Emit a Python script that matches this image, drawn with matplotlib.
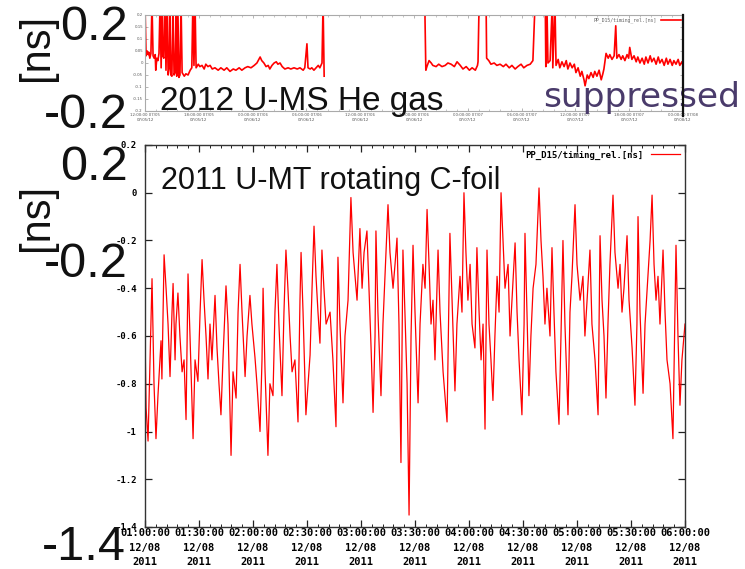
import numpy as np
import matplotlib
matplotlib.use("Agg")
import matplotlib.pyplot as plt
from matplotlib.ticker import MultipleLocator, FixedLocator, FixedFormatter
from matplotlib.lines import Line2D

# ---- 2011 U-MT rotating C-foil : minutes after 01:00:00, timing [ns]
t_2011 = [0.0, 0.6, 1.7, 2.8, 3.9, 5.0, 6.1, 7.2, 8.9, 9.4, 10.6, 11.7, 12.8, 13.9, 15.0, 15.6,
          16.7, 17.2, 18.3, 19.4, 20.6, 21.7, 22.8, 23.9, 25.0, 26.7, 27.8, 29.4, 30.6, 31.7, 32.8,
          33.9, 35.0, 36.1, 37.2, 38.9, 40.0, 41.1, 42.2, 43.3, 45.0, 46.1, 47.8, 48.9, 50.6, 51.7,
          52.8, 53.9, 55.6, 56.7, 58.3, 59.4, 61.1, 62.2, 63.9, 65.0, 65.6, 66.7, 68.3, 69.4, 71.1,
          72.2, 73.3, 74.4, 76.1, 77.2, 78.3, 79.4, 80.6, 81.7, 83.3, 85.0, 86.1, 86.7, 87.8, 89.4,
          90.6, 91.7, 92.8, 93.9, 95.0, 96.1, 97.2, 98.3, 99.4, 100.6, 102.8, 104.4, 106.1, 107.2,
          108.3, 110.0, 111.1, 112.8, 114.4, 115.6, 116.7, 117.8, 119.4, 120.6, 121.7, 123.3, 124.4,
          125.6, 126.7, 127.8, 128.3, 129.4, 131.1, 132.2, 133.3, 135.0, 136.1, 137.8, 138.9, 140.0,
          141.1, 142.2, 143.3, 144.4, 145.6, 146.7, 147.8, 148.9, 150.0, 151.7, 152.8, 154.4, 155.6,
          156.7, 157.8, 158.9, 160.0, 161.1, 162.8, 163.9, 165.6, 167.8, 169.4, 170.6, 172.2, 173.3,
          175.0, 176.1, 177.2, 178.3, 179.4, 180.6, 181.7, 183.3, 184.4, 185.6, 186.7, 187.8, 188.9,
          190.0, 191.1, 192.2, 193.3, 194.4, 195.6, 196.7, 197.8, 198.9, 200.0, 201.7, 202.8, 203.9,
          205.6, 206.7, 207.8, 209.4, 210.6, 211.1, 212.2, 213.3, 214.4, 215.6, 217.2, 218.9, 220.0,
          221.1, 222.2, 223.3, 225.0, 226.1, 227.2, 228.3, 230.0, 231.1, 232.2, 233.3, 235.0, 236.1,
          237.2, 238.9, 240.0, 241.7, 243.3, 244.4, 245.6, 247.2, 248.3, 250.0, 251.7, 252.8, 253.9,
          255.0, 256.1, 257.2, 258.3, 260.0, 261.1, 262.8, 263.9, 265.0, 266.1, 267.8, 268.9, 270.6,
          272.2, 273.3, 273.9, 275.0, 276.7, 277.8, 279.4, 280.6, 281.7, 282.8, 283.9, 285.0, 286.1,
          287.8, 288.9, 290.0, 291.7, 293.3, 294.4, 295.0, 296.1, 297.2, 298.3, 300.0]
v_2011 = [-0.58, -0.90, -1.04, -0.70, -0.36, -0.80, -1.03, -0.85, -0.62, -0.78, -0.26, -0.40, -0.55,
          -0.77, -0.50, -0.38, -0.70, -0.55, -0.42, -0.60, -0.75, -0.70, -0.95, -0.34, -0.60, -1.03,
          -0.70, -0.79, -0.50, -0.28, -0.45, -0.60, -0.78, -0.55, -0.70, -0.43, -0.65, -0.80, -0.93,
          -0.70, -0.39, -0.55, -1.10, -0.75, -0.86, -0.50, -0.30, -0.50, -0.77, -0.60, -0.43, -0.55,
          -0.69, -0.80, -1.00, -0.70, -0.40, -0.75, -1.10, -0.80, -0.85, -0.50, -0.30, -0.55, -0.85,
          -0.50, -0.24, -0.40, -0.60, -0.75, -0.70, -0.96, -0.45, -0.25, -0.50, -0.93, -0.80, -0.68,
          -0.40, -0.14, -0.35, -0.50, -0.63, -0.24, -0.40, -0.55, -0.50, -0.70, -0.98, -0.27, -0.55,
          -0.88, -0.60, -0.45, -0.02, -0.25, -0.35, -0.45, -0.15, -0.40, -0.25, -0.16, -0.40, -0.65,
          -0.92, -0.60, -0.16, -0.50, -0.85, -0.55, -0.35, -0.05, -0.25, -0.40, -0.30, -0.19, -0.55,
          -1.13, -0.24, -0.50, -0.80, -1.35, -0.60, -0.22, -0.50, -0.88, -0.55, -0.30, -0.40, -0.07,
          -0.30, -0.55, -0.45, -0.70, -0.24, -0.50, -0.75, -0.96, -0.17, -0.45, -0.83, -0.55, -0.35,
          -0.50, 0.00, -0.25, -0.45, -0.30, -0.55, -0.65, -0.23, -0.50, -0.70, -0.55, -0.99, -0.24,
          -0.55, -0.70, -0.87, -0.60, -0.35, -0.50, 0.00, -0.20, -0.40, -0.30, -0.60, -0.45, -0.21,
          -0.50, -0.70, -0.93, -0.55, -0.17, -0.50, -0.85, -0.60, -0.40, -0.30, 0.02, -0.20, -0.35,
          -0.55, -0.40, -0.60, -0.23, -0.50, -0.75, -0.97, -0.60, -0.20, -0.55, -0.93, -0.50, -0.35,
          -0.05, -0.30, -0.45, -0.35, -0.60, -0.45, -0.24, -0.55, -0.70, -0.93, -0.18, -0.45, -0.60,
          -0.86, -0.55, -0.30, -0.01, -0.25, -0.40, -0.30, -0.50, -0.40, -0.18, -0.45, -0.65, -0.89,
          -0.55, -0.10, -0.50, -0.84, -0.55, -0.35, -0.20, -0.01, -0.30, -0.45, -0.35, -0.55, -0.24,
          -0.50, -0.70, -0.80, -1.03, -0.50, -0.22, -0.60, -0.89, -0.70, -0.55]

# ---- 2012 U-MS He gas : relative time, timing [ns] (nan = no data, 0.25 = off scale)
t_2012 = [0.0, 0.2, 0.4, 0.6, 0.7, 0.9, 1.1, 1.3, 1.5, 1.7, 1.9, 2.0, 2.2, 2.4, 2.6, 2.8, 3.0, 3.2,
          3.3, 3.5, 3.7, 3.9, 4.1, 4.3, 4.5, 4.6, 4.8, 5.0, 5.2, 5.4, 5.6, 5.8, 5.9, 6.1, 6.3, 6.5,
          6.7, 6.9, 7.3, 7.6, 8.0, 8.4, 8.7, 8.9, 9.1, 9.3, 9.5, 9.9, 10.2, 10.6, 11.0, 11.3, 11.7,
          12.1, 12.5, 13.0, 13.6, 14.1, 14.7, 15.2, 15.8, 16.4, 16.9, 17.5, 18.0, 18.6, 19.1, 19.7,
          20.3, 20.8, 21.4, 21.7, 22.1, 22.5, 22.9, 23.2, 23.6, 24.0, 24.4, 24.7, 25.1, 25.5, 26.0,
          26.6, 27.1, 27.7, 28.3, 28.8, 29.4, 29.7, 30.1, 30.3, 30.7, 31.0, 31.4, 31.8, 32.2, 32.5,
          32.9, 33.1, 33.3, 34.0,
          52.0, 52.2, 52.4, 52.8, 53.2, 53.5, 54.1, 54.6, 55.2, 55.8, 56.3, 56.9, 57.5, 58.0, 58.6,
          59.1, 59.7, 60.3, 60.8, 61.4, 61.8, 61.9, 62.1, 62.8,
          63.4, 63.5, 63.9, 64.3, 64.9, 65.4, 66.0, 66.6, 67.1, 67.7, 68.2, 68.8, 69.3, 69.9, 70.4,
          71.0, 71.6, 72.1, 72.5, 73.5,
          74.4, 74.5, 74.7, 74.9, 75.3, 75.7, 75.8, 76.2, 76.4, 76.8, 77.1, 77.5, 77.9, 78.3, 78.6,
          79.0, 79.4, 79.8, 80.1, 80.5, 80.9, 81.2, 81.6, 81.8, 82.2, 82.5, 82.9, 83.3, 83.6, 84.0,
          84.4, 84.8, 85.1, 85.3, 85.7, 86.1, 86.4, 86.8, 87.2, 87.5, 87.7, 88.1, 88.5, 88.8, 89.2,
          89.6, 89.9, 90.1, 90.5, 90.9, 91.3, 91.6, 92.0, 92.4, 92.8, 93.1, 93.5, 93.9, 94.2, 94.6,
          95.0, 95.4, 95.7, 96.1, 96.5, 96.9, 97.2, 97.6, 98.0, 98.3, 98.7, 99.1, 99.4, 99.8, 100.0]
v_2012 = [0.25, 0.03, 0.05, 0.035, 0.045, 0.02, 0.04, 0.25, 0.03, 0.02, 0.035, -0.03, 0.02, 0.01,
          0.04, 0.25, -0.02, 0.25, 0.03, 0.02, 0.25, -0.03, 0.25, -0.05, -0.02, 0.25, -0.05, -0.055,
          0.25, -0.05, -0.04, 0.25, -0.055, 0.25, -0.06, -0.05, 0.25, -0.04, -0.055, -0.045, -0.05,
          -0.03, -0.02, 0.25, -0.01, 0.25, -0.02, -0.005, -0.015, -0.01, -0.025, -0.005, -0.015,
          -0.01, -0.025, -0.02, -0.03, -0.02, -0.03, -0.02, -0.035, -0.025, -0.03, -0.02, -0.03,
          -0.02, -0.015, -0.02, -0.01, 0.0, 0.025, 0.01, 0.0, -0.015, -0.01, -0.025, -0.01, 0.0,
          0.005, -0.005, 0.0, -0.015, -0.025, -0.02, -0.025, -0.02, -0.025, -0.02, -0.03, -0.02,
          0.08, -0.02, -0.025, -0.02, -0.03, -0.02, -0.01, -0.02, 0.0, 0.25, -0.055, np.nan,
          0.25, -0.03, -0.015, 0.01, 0.0, -0.01, -0.015, -0.005, -0.015, -0.01, 0.0, -0.005, -0.015,
          0.005, -0.01, -0.025, -0.015, -0.03, -0.02, -0.03, -0.01, 0.005, 0.25, np.nan,
          0.25, 0.02, 0.01, -0.005, 0.0, -0.01, -0.005, -0.015, -0.005, -0.02, -0.01, -0.025,
          -0.015, -0.005, -0.02, -0.01, -0.005, 0.01, 0.25, np.nan,
          0.25, -0.015, 0.25, 0.0, 0.01, 0.25, -0.02, 0.25, -0.01, 0.015, -0.02, 0.005, -0.015,
          0.01, -0.025, 0.0, -0.02, -0.005, -0.04, -0.02, -0.055, -0.035, -0.07, -0.095, -0.05,
          -0.065, -0.04, -0.06, -0.035, -0.055, -0.03, -0.07, -0.045, -0.025, 0.04, 0.02, 0.035,
          0.015, 0.03, 0.155, 0.02, 0.035, 0.015, 0.03, 0.01, 0.035, 0.02, 0.065, 0.015, 0.03,
          0.005, 0.025, 0.0, 0.02, -0.005, 0.025, 0.0, 0.03, 0.005, 0.02, -0.005, 0.025, 0.0,
          0.015, -0.01, 0.02, -0.005, 0.015, -0.01, 0.01, -0.005, 0.015, -0.01, 0.005, -0.01]

xticks_2011 = [0, 30, 60, 90, 120, 150, 180, 210, 240, 270, 300]
xlabels_2011 = ["01:00:00\n12/08\n2011", "01:30:00\n12/08\n2011", "02:00:00\n12/08\n2011",
                "02:30:00\n12/08\n2011", "03:00:00\n12/08\n2011", "03:30:00\n12/08\n2011",
                "04:00:00\n12/08\n2011", "04:30:00\n12/08\n2011", "05:00:00\n12/08\n2011",
                "05:30:00\n12/08\n2011", "06:00:00\n12/08\n2011"]
yticks_2011 = [0.2, 0, -0.2, -0.4, -0.6, -0.8, -1, -1.2, -1.4]
ylabels_2011 = ["0.2", "0", "-0.2", "-0.4", "-0.6", "-0.8", "-1", "-1.2", "-1.4"]

xticks_2012 = [0, 10, 20, 30, 40, 50, 60, 70, 80, 90, 100]
xlabels_2012 = ["12:00:00 07/05\n07/05/12", "18:00:00 07/05\n07/05/12",
                "00:00:00 07/06\n07/06/12", "06:00:00 07/06\n07/06/12",
                "12:00:00 07/06\n07/06/12", "18:00:00 07/06\n07/06/12",
                "00:00:00 07/07\n07/07/12", "06:00:00 07/07\n07/07/12",
                "12:00:00 07/07\n07/07/12", "18:00:00 07/07\n07/07/12",
                "00:00:00 07/08\n07/08/12"]
yticks_2012 = [0.2, 0.15, 0.1, 0.05, 0, -0.05, -0.1, -0.15, -0.2]
ylabels_2012 = ["0.2", "0.15", "0.1", "0.05", "0", "-0.05", "-0.1", "-0.15", "-0.2"]

W, H = 745, 569


def fx(x, y):
    return x / W, 1 - y / H


fig = plt.figure(figsize=(W / 100, H / 100), dpi=100)
fig.patch.set_facecolor("white")

mono = "DejaVu Sans Mono"

# ---- lower panel (2011)
ax = fig.add_axes([145 / W, 1 - 527 / H, 540 / W, 382 / H])
ax.plot(t_2011, v_2011, color="#ff0000", lw=0.9, label="PP_D15/timing_rel.[ns]")
ax.set_xlim(0, 300)
ax.set_ylim(-1.4, 0.2)
ax.xaxis.set_major_locator(FixedLocator(xticks_2011))
ax.xaxis.set_major_formatter(FixedFormatter(xlabels_2011))
ax.xaxis.set_minor_locator(MultipleLocator(6))
ax.yaxis.set_major_locator(FixedLocator(yticks_2011))
ax.yaxis.set_major_formatter(FixedFormatter(ylabels_2011))
ax.tick_params(which="both", direction="in", top=True, right=True, color="#222222")
ax.tick_params(which="major", length=5, width=0.9)
ax.tick_params(which="minor", length=2.5, width=0.7)
ax.tick_params(axis="x", pad=1)
ax.tick_params(axis="y", pad=6)
for lab in ax.get_xticklabels():
    lab.set_fontfamily(mono)
    lab.set_fontweight("bold")
    lab.set_fontsize(7.5)
    lab.set_linespacing(1.55)
for lab in ax.get_yticklabels():
    lab.set_fontfamily(mono)
    lab.set_fontweight("bold")
    lab.set_fontsize(6.5)
for s in ax.spines.values():
    s.set_color("#333333")
    s.set_linewidth(1.0)
ax.legend(loc="upper right", frameon=False, markerfirst=False, handlelength=3.2,
          borderaxespad=0.2, prop={"family": mono, "weight": "bold", "size": 6.5})

# ---- upper panel (2012)
ax2 = fig.add_axes([145 / W, 1 - 111 / H, 538 / W, 96 / H])
ax2.plot(t_2012, v_2012, color="#ff0000", lw=1.2, label="PP_D15/timing_rel.[ns]")
ax2.set_xlim(0, 100)
ax2.set_ylim(-0.2, 0.2)
ax2.xaxis.set_major_locator(FixedLocator(xticks_2012))
ax2.xaxis.set_major_formatter(FixedFormatter(xlabels_2012))
ax2.xaxis.set_minor_locator(MultipleLocator(2))
ax2.yaxis.set_major_locator(FixedLocator(yticks_2012))
ax2.yaxis.set_major_formatter(FixedFormatter(ylabels_2012))
ax2.tick_params(which="both", direction="in", top=True, right=True, color="#999999",
                labelsize=2.8, labelcolor="#555555", pad=1.5)
ax2.tick_params(which="major", length=2.5, width=0.5)
ax2.tick_params(which="minor", length=1.2, width=0.4)
for s in ax2.spines.values():
    s.set_color("#aaaaaa")
    s.set_linewidth(0.8)
ax2.legend(loc="upper right", frameon=False, markerfirst=False, handlelength=4,
           borderaxespad=0.1, prop={"family": mono, "size": 3.5}, labelcolor="#666666")

# ---- slide overlay text
big = "Liberation Sans"
ink = "#111111"
fig.text(*fx(37, 47), "[ns]", rotation=90, ha="center", va="center", fontsize=30,
         family=big, color=ink)
fig.text(*fx(37, 217), "[ns]", rotation=90, ha="center", va="center", fontsize=30,
         family=big, color=ink)
fig.text(*fx(128, 40), "0.2", ha="right", va="baseline", fontsize=35, family=big, color=ink)
fig.text(*fx(128, 128), "-0.2", ha="right", va="baseline", fontsize=35, family=big, color=ink)
fig.text(*fx(128, 180), "0.2", ha="right", va="baseline", fontsize=35, family=big, color=ink)
fig.text(*fx(128, 277), "-0.2", ha="right", va="baseline", fontsize=35, family=big, color=ink)
fig.text(*fx(126, 560), "-1.4", ha="right", va="baseline", fontsize=35, family=big, color=ink)

fig.text(*fx(160, 110), "2012 U-MS He gas", ha="left", va="baseline", fontsize=24,
         family=big, color=ink)
fig.text(*fx(161, 189), "2011 U-MT rotating C-foil", ha="left", va="baseline", fontsize=22,
         family=big, color=ink)
fig.text(*fx(543, 107), "suppressed", ha="left", va="baseline", fontsize=24.8,
         family="DejaVu Sans", color="#4a3b6b")

# dark right edge of the upper picture, drawn over the text
fig.add_artist(Line2D([683 / W, 683 / W], [1 - 15 / H, 1 - 116 / H], color="#111111",
                      lw=1.6, transform=fig.transFigure, zorder=10))

fig.savefig("out.png", dpi=100, facecolor="white")
